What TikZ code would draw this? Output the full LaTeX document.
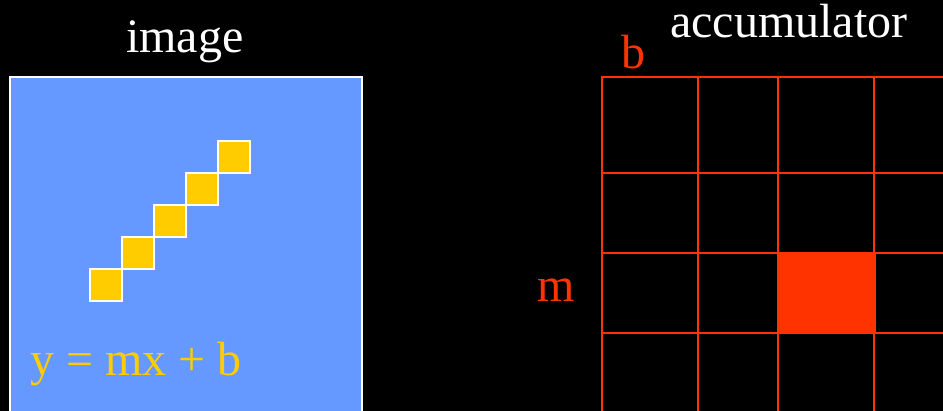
\documentclass[tikz,border=0pt]{standalone}
\usepackage{fontspec}
\setmainfont{Liberation Serif}
\definecolor{imgblue}{HTML}{6699FF}
\definecolor{pixyellow}{HTML}{FFCC00}
\definecolor{accred}{HTML}{FF3300}
\tikzset{
  lbl/.style={inner sep=0pt, anchor=base west, font=\fontsize{48}{48}\selectfont},
  pix/.style={fill=pixyellow, draw=white, line width=1.2pt},
  gthick/.style={draw=accred, line width=2.8pt},
  gthin/.style={draw=accred, line width=2pt}
}
\begin{document}
\begin{tikzpicture}[x=1pt,y=-1pt]
\useasboundingbox (0,0) rectangle (943,411);
\fill[black] (0,0) rectangle (943,411);
% image panel
\begin{scope}
\clip (0,0) rectangle (943,411);
\draw[fill=imgblue, draw=white, line width=1.2pt] (10,77) rectangle (362,420);
\end{scope}
\foreach \k in {0,...,4} {
  \draw[pix] ({90+32*\k},{269-32*\k}) rectangle ({122+32*\k},{301-32*\k});
}
\node[lbl, text=white] (imgtitle) at (126,53) {image};
\node[lbl, text=pixyellow] (eqn) at (30,376) {y = mx + b};
% accumulator
\node[lbl, text=white] (acctitle) at (670,38) {accumulator};
\node[lbl, text=accred] (blabel) at (621,69) {b};
\node[lbl, text=accred] (mlabel) at (537,302) {m};
\fill[accred] (777,252) rectangle (876,334);
\begin{scope}
\clip (0,0) rectangle (943,411);
\draw[gthick] (602,76) -- (602,420);
\draw[gthin] (698,77) -- (698,420);
\draw[gthick] (778,77) -- (778,420);
\draw[gthin] (874,77) -- (874,420);
\draw[gthick] (601,77) -- (950,77);
\draw[gthin] (602,173) -- (950,173);
\draw[gthick] (602,253) -- (950,253);
\draw[gthin] (602,333) -- (950,333);
\end{scope}
\end{tikzpicture}
\end{document}
